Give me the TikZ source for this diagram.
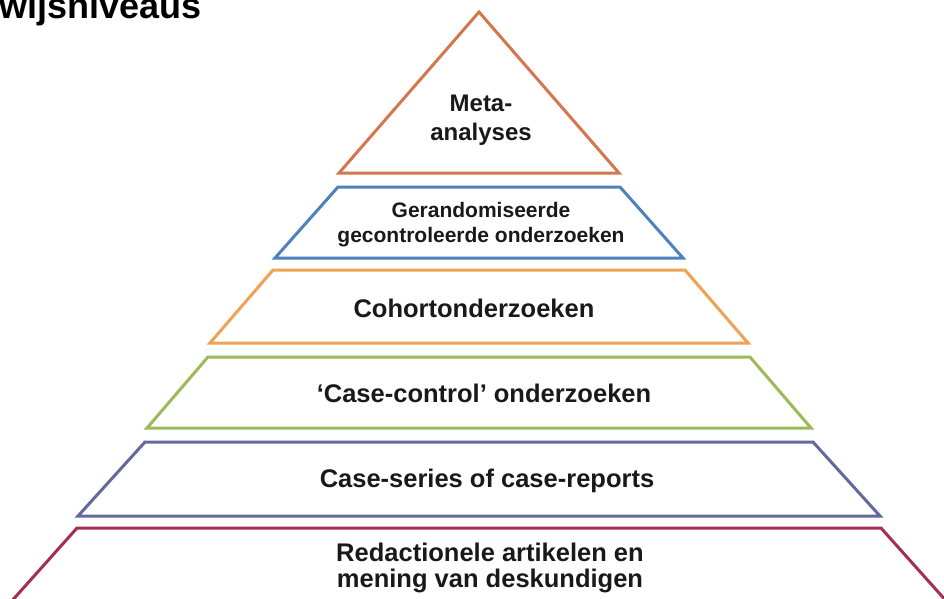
\documentclass[tikz,border=0pt]{standalone}
\usepackage{fontspec}
\setmainfont{Liberation Sans}
\definecolor{ctri}{HTML}{D4774F}
\definecolor{cblue}{HTML}{4F81BD}
\definecolor{corange}{HTML}{EFA254}
\definecolor{cgreen}{HTML}{9BBB59}
\definecolor{cpurple}{HTML}{65689A}
\definecolor{cred}{HTML}{A3304F}
\tikzset{
  tier/.style={line width=3pt, line join=miter, fill=white},
  lbl/.style={anchor=base, inner sep=0pt, align=center, text=black!90,
    font=\bfseries\fontsize{25.5}{25.5}\selectfont},
  lblsmall/.style={lbl, font=\bfseries\fontsize{21}{25}\selectfont},
  lblmeta/.style={lbl, font=\bfseries\fontsize{24}{29}\selectfont},
  ttl/.style={anchor=base west, inner sep=0pt,
    font=\bfseries\fontsize{36}{40}\selectfont}
}
\begin{document}
\begin{tikzpicture}[x=1pt,y=-1pt]
\useasboundingbox (0,0) rectangle (944,598);
\clip (0,0) rectangle (944,598);
\fill[white] (0,0) rectangle (944,598);
% title (cropped)
\node[ttl] (title) at (-1,18) {wijsniveaus};
% pyramid tiers
\draw[tier, draw=ctri] (479,12) -- (619,173) -- (339,173) -- cycle;
\draw[tier, draw=cblue] (338,187) -- (620,187) -- (683,258) -- (275,258) -- cycle;
\draw[tier, draw=corange] (273,270) -- (685,270) -- (748,343) -- (210,343) -- cycle;
\draw[tier, draw=cgreen] (208,357) -- (750,357) -- (811,428) -- (147,428) -- cycle;
\draw[tier, draw=cpurple] (145,442) -- (813,442) -- (880,516) -- (78,516) -- cycle;
\draw[tier, draw=cred] (77,528) -- (881,528) -- (990,650) -- (-32,650) -- cycle;
% labels (base anchor = baseline of the last line)
\node[lblmeta] (meta) at (481,140) {Meta-\\analyses};
\node[lblsmall] (rct) at (481,242) {Gerandomiseerde\\gecontroleerde onderzoeken};
\node[lbl] (cohort) at (474,317) {Cohortonderzoeken};
\node[lbl] (casecontrol) at (484,402) {‘Case-control’ onderzoeken};
\node[lbl] (caseseries) at (487,487) {Case-series of case-reports};
\node[lbl] (expert) at (490,587) {Redactionele artikelen en\\mening van deskundigen};
\end{tikzpicture}
\end{document}
